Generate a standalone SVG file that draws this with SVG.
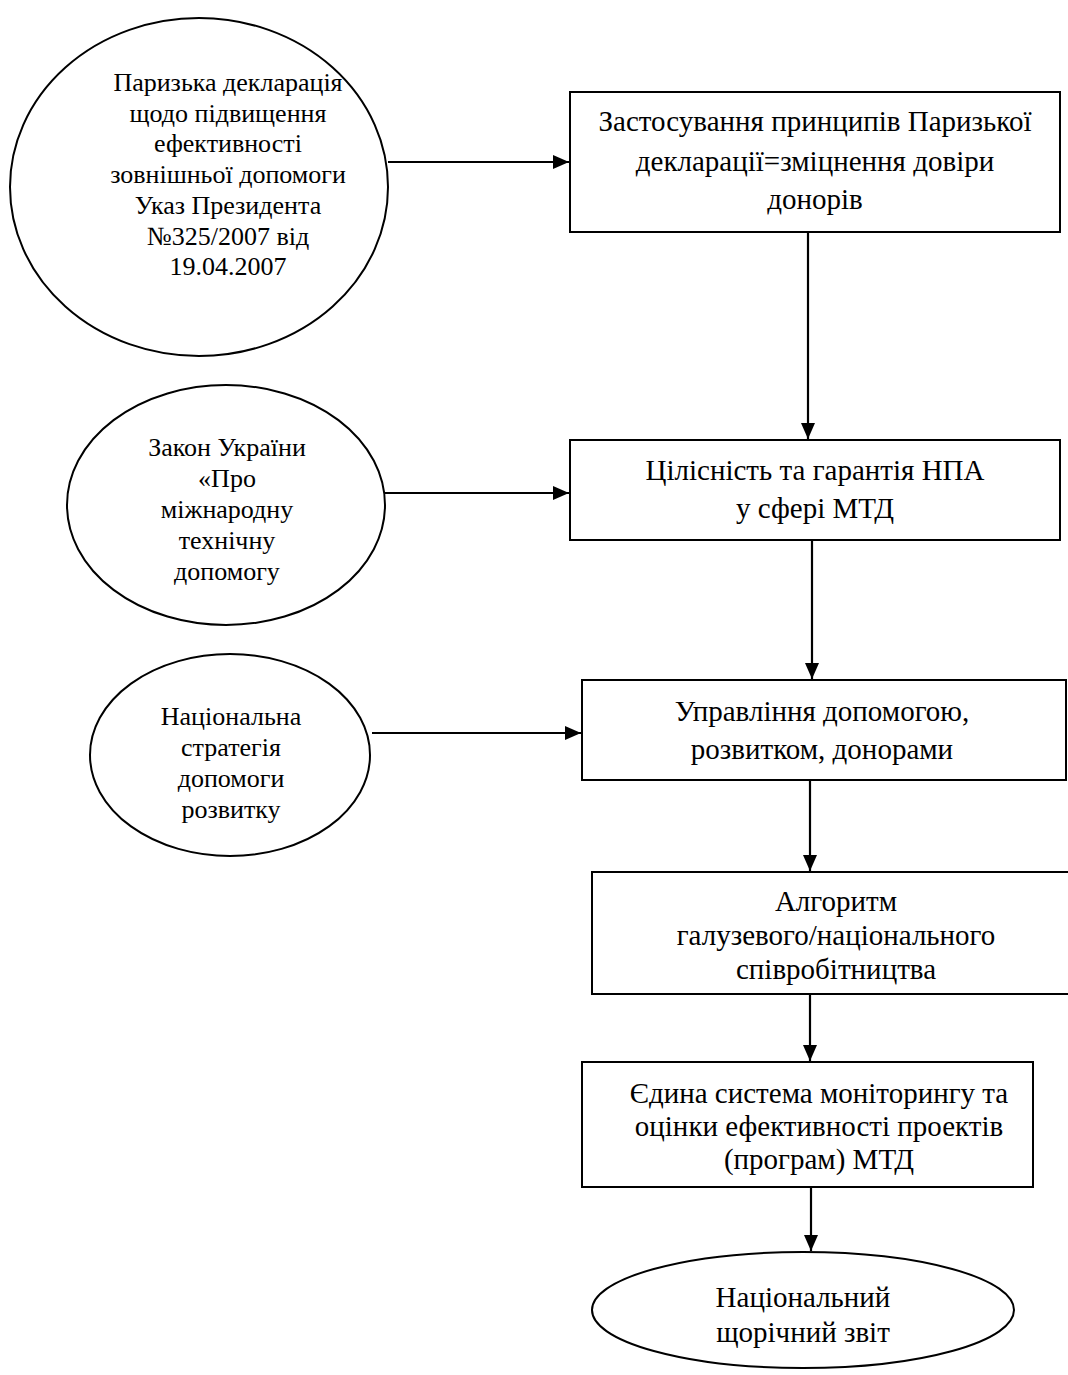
<svg xmlns="http://www.w3.org/2000/svg" width="1068" height="1375" viewBox="0 0 1068 1375">
<style>
.s{fill:#fff;stroke:#000;stroke-width:2}
.c{stroke:#000;stroke-width:2.2;fill:none}
text{font-family:"Liberation Serif","Times New Roman",serif;font-size:29px;fill:#000;text-anchor:middle}
.e text{font-size:26px}
</style>
<defs>
<marker id="a" viewBox="0 0 16 14" refX="16" refY="7" markerWidth="16" markerHeight="14" markerUnits="userSpaceOnUse" orient="auto"><path d="M0,0L16,7L0,14z" fill="#000"/></marker>
</defs>
<rect width="1068" height="1375" fill="#fff"/>
<g id="connectors">
<path class="c" d="M388,162H569" marker-end="url(#a)"/>
<path class="c" d="M808,232V439" marker-end="url(#a)"/>
<path class="c" d="M385,493H569" marker-end="url(#a)"/>
<path class="c" d="M812,540V679" marker-end="url(#a)"/>
<path class="c" d="M372,733H581" marker-end="url(#a)"/>
<path class="c" d="M810,780V871" marker-end="url(#a)"/>
<path class="c" d="M810,994V1061" marker-end="url(#a)"/>
<path class="c" d="M811,1187V1251" marker-end="url(#a)"/>
</g>
<g id="n1" class="e"><ellipse class="s" cx="199" cy="187" rx="189" ry="169"/>
<text x="228" y="91">Паризька декларація</text><text x="228" y="122">щодо підвищення</text><text x="228" y="152">ефективності</text><text x="228" y="183">зовнішньої допомоги</text><text x="228" y="214">Указ Президента</text><text x="228" y="245">№325/2007 від</text><text x="228" y="275">19.04.2007</text></g>
<g id="n2"><rect class="s" x="570" y="92" width="490" height="140"/>
<text x="815" y="131">Застосування принципів Паризької</text><text x="815" y="171">декларації=зміцнення довіри</text><text x="815" y="209">донорів</text></g>
<g id="n3" class="e"><ellipse class="s" cx="226" cy="505" rx="159" ry="120"/>
<text x="227" y="456">Закон України</text><text x="227" y="487">«Про</text><text x="227" y="518">міжнародну</text><text x="227" y="549">технічну</text><text x="227" y="580">допомогу</text></g>
<g id="n4"><rect class="s" x="570" y="440" width="490" height="100"/>
<text x="815" y="480">Цілісність та гарантія НПА</text><text x="815" y="518">у сфері МТД</text></g>
<g id="n5" class="e"><ellipse class="s" cx="230" cy="755" rx="140" ry="101"/>
<text x="231" y="725">Національна</text><text x="231" y="756">стратегія</text><text x="231" y="787">допомоги</text><text x="231" y="818">розвитку</text></g>
<g id="n6"><rect class="s" x="582" y="680" width="484" height="100"/>
<text x="822" y="721">Управління допомогою,</text><text x="822" y="759">розвитком, донорами</text></g>
<g id="n7"><rect class="s" x="592" y="872" width="490" height="122"/>
<text x="836" y="911">Алгоритм</text><text x="836" y="945">галузевого/національного</text><text x="836" y="979">співробітництва</text></g>
<g id="n8"><rect class="s" x="582" y="1062" width="451" height="125"/>
<text x="819" y="1103">Єдина система моніторингу та</text><text x="819" y="1136">оцінки ефективності проектів</text><text x="819" y="1169">(програм) МТД</text></g>
<g id="n9"><ellipse class="s" cx="803" cy="1310" rx="211" ry="58"/>
<text x="803" y="1307">Національний</text><text x="803" y="1342">щорічний звіт</text></g>
</svg>
